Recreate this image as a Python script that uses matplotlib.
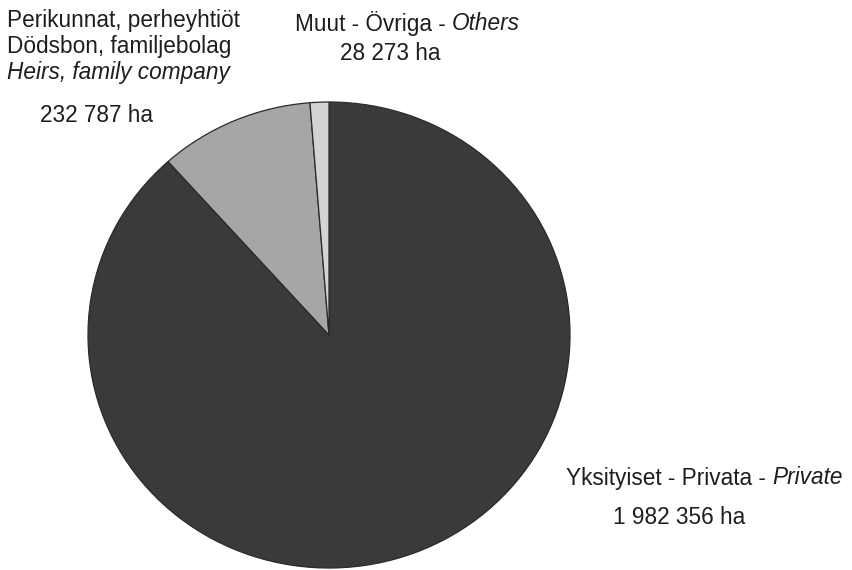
import matplotlib.pyplot as plt

# land area by owner group (ha)
categories = ["Yksityiset - Privata - Private",
              "Perikunnat, perheyhtiöt / Dödsbon, familjebolag / Heirs, family company",
              "Muut - Övriga - Others"]
areas = [1982356, 232787, 28273]
area_labels = ["1 982 356 ha", "232 787 ha", "28 273 ha"]
colors = ["#3a3a3a", "#a6a6a6", "#d3d3d3"]

plt.rcParams["font.family"] = ["Liberation Sans", "DejaVu Sans"]

fig = plt.figure(figsize=(8.52, 5.70), dpi=100)
fig.patch.set_facecolor("white")

# pie area in pixels: x 88..570, y 102..568 (slightly wider than tall)
ax = fig.add_axes([88 / 852, 2 / 570, 482 / 852, 466 / 570])
ax.pie(areas, colors=colors, startangle=90, counterclock=False, radius=1,
       wedgeprops=dict(edgecolor="#2a2a2a", linewidth=0.9))
ax.set_aspect("auto")
ax.set_xlim(-1, 1)
ax.set_ylim(-1, 1)
ax.axis("off")

fs = 16.3
tc = "#1e1e1e"


def put(x, y, s, style="normal"):
    fig.text(x / 852, 1 - y / 570, s, fontsize=fs, color=tc, ha="left",
             va="center", style=style)


# heirs / family company
put(7, 21, "Perikunnat, perheyhtiöt")
put(7, 47, "Dödsbon, familjebolag")
put(7, 73, "Heirs, family company", style="italic")
put(40, 116, area_labels[1])

# others
t = fig.text(295 / 852, 1 - 23 / 570, "Muut - Övriga - ", fontsize=fs, color=tc,
             ha="left", va="center")
fig.canvas.draw()
bb = t.get_window_extent()
fig.text(bb.x1 / 852, 1 - 23 / 570, "Others", fontsize=fs, color=tc,
         ha="left", va="center", style="italic")
put(340, 53, area_labels[2])

# private
t2 = fig.text(566 / 852, 1 - 478 / 570, "Yksityiset - Privata - ", fontsize=fs,
              color=tc, ha="left", va="center")
fig.canvas.draw()
bb2 = t2.get_window_extent()
fig.text(bb2.x1 / 852, 1 - 478 / 570, "Private", fontsize=fs, color=tc,
         ha="left", va="center", style="italic")
put(613, 517, area_labels[0])

fig.savefig("out.png", dpi=100, facecolor="white")
